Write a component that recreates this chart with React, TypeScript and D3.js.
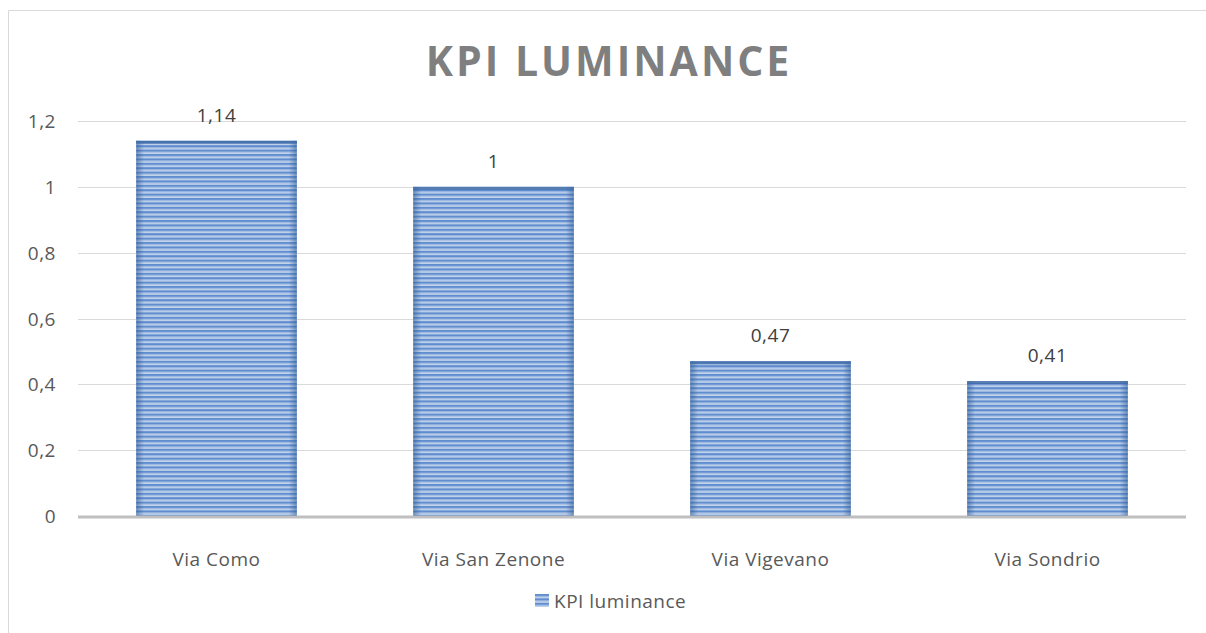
import * as d3 from 'd3';

const categories = ['Via Como', 'Via San Zenone', 'Via Vigevano', 'Via Sondrio'];
const values = [1.14, 1, 0.47, 0.41];
const valueLabels = ['1,14', '1', '0,47', '0,41'];
const yTicks = [0, 0.2, 0.4, 0.6, 0.8, 1, 1.2];
const seriesName = 'KPI luminance';

const W = 1206;
const H = 633;
const font = 'Open Sans, Calibri, sans-serif';

export default function App() {
  const x = d3.scaleBand<string>().domain(categories).range([78, 1186]).paddingInner(0.42).paddingOuter(0.21);
  const y = d3.scaleLinear().domain([0, 1.2]).range([516, 121]);
  const fmt = (v: number) => String(v).replace('.', ',');

  return (
    <svg width={W} height={H} style={{ position: 'absolute', left: 0, top: 0 }}>
      <defs>
        <pattern id="stripes" width="8" height="4.4" patternUnits="userSpaceOnUse">
          <rect width="8" height="4.4" fill="#c3d4ec" />
          <rect y="0" width="8" height="2.2" fill="#5f8dcf" />
          <rect y="2.2" width="8" height="0.8" fill="#9ab6df" />
        </pattern>
        <linearGradient id="edge" x1="0" x2="1" y1="0" y2="0">
          <stop offset="0" stopColor="#2f5a93" stopOpacity="0.55" />
          <stop offset="0.05" stopColor="#2f5a93" stopOpacity="0" />
          <stop offset="0.95" stopColor="#2f5a93" stopOpacity="0" />
          <stop offset="1" stopColor="#2f5a93" stopOpacity="0.55" />
        </linearGradient>
      </defs>
      <rect x={0} y={0} width={W} height={H} fill="#fff" />
      <line x1={8.5} x2={W} y1={10.5} y2={10.5} stroke="#d9d9d9" />
      <line x1={8.5} x2={8.5} y1={10.5} y2={H} stroke="#d9d9d9" />
      <text x={609} y={76} textAnchor="middle" fontFamily={font} fontWeight="bold" fontSize={41} letterSpacing={3} fill="#7f7f7f">
        KPI LUMINANCE
      </text>
      {yTicks.map((t) => (
        <g key={t}>
          {t > 0 && <line x1={78} x2={1186} y1={Math.round(y(t)) + 0.5} y2={Math.round(y(t)) + 0.5} stroke="#d9d9d9" strokeWidth={1} />}
          <text x={56} y={y(t) + 7} textAnchor="end" fontFamily={font} fontSize={19} letterSpacing={0.5} fill="#595959">
            {fmt(t)}
          </text>
        </g>
      ))}
      {categories.map((c, i) => {
        const bx = x(c) as number;
        const by = y(values[i]);
        const bh = y(0) - by;
        return (
          <g key={c}>
            <rect x={bx} y={by} width={x.bandwidth()} height={bh} fill="url(#stripes)" />
            <rect x={bx} y={by} width={x.bandwidth()} height={bh} fill="url(#edge)" />
            <rect x={bx} y={by} width={x.bandwidth()} height={3} fill="#3f6aa6" opacity={0.8} />
            <text x={bx + x.bandwidth() / 2} y={by - 19} textAnchor="middle" fontFamily={font} fontSize={19} letterSpacing={0.5} fill="#404040">
              {valueLabels[i]}
            </text>
            <text x={bx + x.bandwidth() / 2} y={566} textAnchor="middle" fontFamily={font} fontSize={19} letterSpacing={0.5} fill="#595959">
              {c}
            </text>
          </g>
        );
      })}
      <line x1={78} x2={1186} y1={517} y2={517} stroke="#bfbfbf" strokeWidth={3} />
      <rect x={535} y={594} width={14} height={13} fill="url(#stripes)" />
      <text x={554} y={608} fontFamily={font} fontSize={19} letterSpacing={0.5} fill="#595959">
        {seriesName}
      </text>
    </svg>
  );
}
